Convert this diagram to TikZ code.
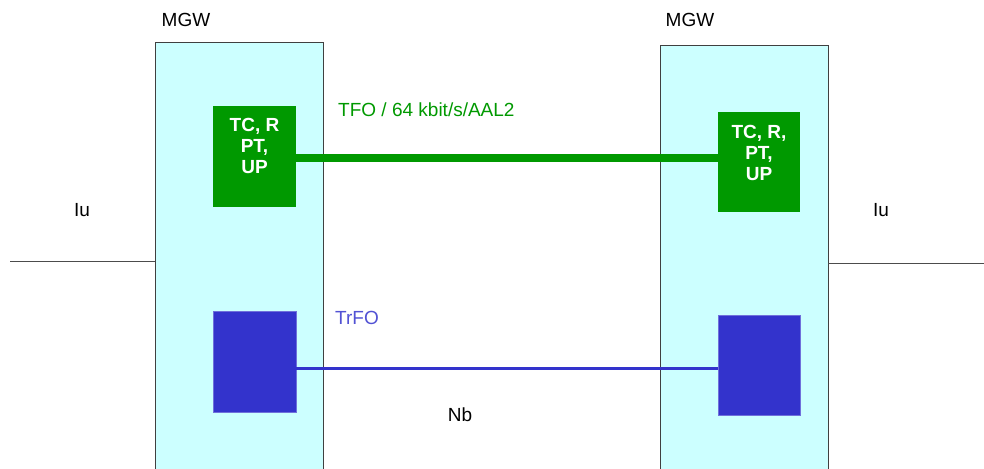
\documentclass[tikz,border=0pt]{standalone}
\usepackage{fontspec}
\setmainfont{Liberation Sans}
\definecolor{mgwfill}{HTML}{CCFFFF}
\definecolor{tfogreen}{HTML}{009900}
\definecolor{trfoblue}{HTML}{3333CC}
\begin{document}
\begin{tikzpicture}[x=1pt,y=-1pt,
  mgw/.style={draw=black!75, fill=mgwfill, minimum width=168pt, minimum height=440pt, inner sep=0pt, line width=0.8pt},
  gbox/.style={fill=tfogreen, minimum width=83pt, minimum height=101pt, inner sep=0pt},
  bbox/.style={fill=trfoblue, draw=trfoblue!70!white, line width=0.5pt, minimum width=83pt, minimum height=101pt, inner sep=0pt},
  lbl/.style={inner sep=0pt, font=\fontsize{19}{21}\selectfont},
  boxtxt/.style={inner sep=0pt, align=center, text=white, font=\fontsize{19}{21}\selectfont\bfseries},
  iu/.style={draw=black!70, line width=0.8pt},
  gline/.style={draw=tfogreen, line width=8.5pt},
  bline/.style={draw=trfoblue, line width=3pt}]
\useasboundingbox (0,0) rectangle (984,468);
\clip (0,0) rectangle (984,468);
\fill[white] (0,0) rectangle (984,468);
% MGW boxes
\node[mgw] (m1) at (239,262) {};
\node[mgw] (m2) at (744,265) {};
% inner boxes
\node[gbox] (g1) at (254.5,156.5) {};
\node[gbox, minimum width=82pt, minimum height=100pt] (g2) at (759,162) {};
\node[bbox] (b1) at (254.5,361.5) {};
\node[bbox, minimum width=82pt, minimum height=100pt] (b2) at (759,365) {};
\node[boxtxt, anchor=north] (g1t) at (254.5,118) {TC, R\\PT,\\UP};
\node[boxtxt, anchor=north] (g2t) at (759,125) {TC, R,\\PT,\\UP};
% connectors
\draw[gline] (g1.east |- 0,158) -- (g2.west |- 0,158);
\draw[bline] (b1.east |- 0,368) -- (b2.west |- 0,368);
\coordinate (iul) at (10,261);
\coordinate (iur) at (984,263);
\draw[iu] (iul) -- (m1.west |- iul);
\draw[iu] (m2.east |- iur) -- (iur);
% labels
\node[lbl] (mgw1) at (186,20) {MGW};
\node[lbl] (mgw2) at (690,20) {MGW};
\node[lbl, anchor=west, text=tfogreen] (tfo) at (338,110) {TFO / 64 kbit/s/AAL2};
\node[lbl, anchor=west, text=trfoblue!85!white] (trfo) at (335,318) {TrFO};
\node[lbl] (nb) at (460,415) {Nb};
\node[lbl] (iu1) at (82,210) {Iu};
\node[lbl] (iu2) at (881,210) {Iu};
\end{tikzpicture}
\end{document}
